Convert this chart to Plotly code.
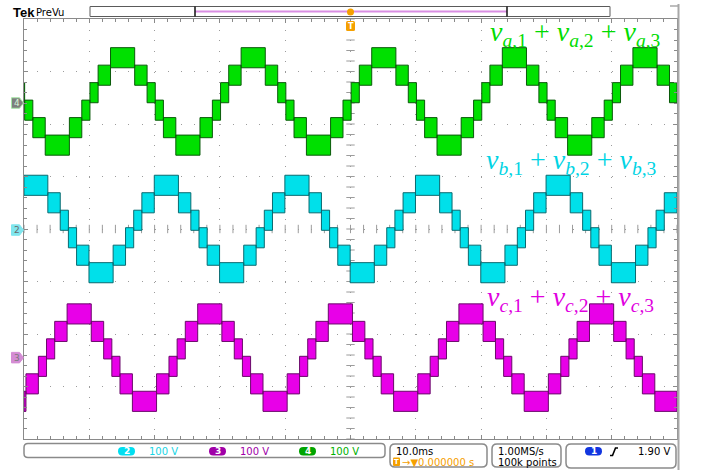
import plotly.graph_objects as go

# ---------------- data ----------------
time_range_ms = [-50, 50]          # 10 divisions x 10.0 ms
volt_range_V = [-400, 400]         # 8 divisions x 100 V
level_step_V = 33.3                # one converter level
band_overshoot_V = 2.5             # switching ripple beyond each level
green_offset_V = 243
cyan_offset_V = 0
magenta_offset_V = -245

# transition instants (ms) and active band (lower level index, band = [k, k+1])
green_edges_ms = [-50, -49.9, -48.65, -46.75, -43.05, -41.15, -39.9, -38.65, -36.75,
                  -33.05, -31.15, -29.9, -28.65, -26.75, -23.05, -21.15, -19.9, -18.65, -16.75,
                  -13.05, -11.15, -9.9, -8.65, -6.75, -3.05, -1.15, 0.1, 1.35, 3.25,
                  6.95, 8.85, 10.1, 11.35, 13.25, 16.95, 18.85, 20.1, 21.35, 23.25,
                  26.95, 28.85, 30.1, 31.35, 33.25, 36.95, 38.85, 40.1, 41.35, 43.25,
                  46.95, 48.85, 50]
green_bands = [0,
               -1, -2, -3, -2, -1, 0, 1, 2, 1, 0,
               -1, -2, -3, -2, -1, 0, 1, 2, 1, 0,
               -1, -2, -3, -2, -1, 0, 1, 2, 1, 0,
               -1, -2, -3, -2, -1, 0, 1, 2, 1, 0,
               -1, -2, -3, -2, -1, 0, 1, 2, 1, 0]

cyan_edges_ms = [-50, -46.35, -44.45, -43.2, -41.95, -40.05, -36.35, -34.45, -33.2, -31.95,
                 -30.05, -26.35, -24.45, -23.2, -21.95, -20.05, -16.35, -14.45, -13.2, -11.95,
                 -10.05, -6.35, -4.45, -3.2, -1.95, -0.05, 3.65, 5.55, 6.8, 8.05,
                 9.95, 13.65, 15.55, 16.8, 18.05, 19.95, 23.65, 25.55, 26.8, 28.05,
                 29.95, 33.65, 35.55, 36.8, 38.05, 39.95, 43.65, 45.55, 46.8, 48.05, 50]
cyan_bands = [2,
              1, 0, -1, -2, -3, -2, -1, 0, 1, 2,
              1, 0, -1, -2, -3, -2, -1, 0, 1, 2,
              1, 0, -1, -2, -3, -2, -1, 0, 1, 2,
              1, 0, -1, -2, -3, -2, -1, 0, 1, 2,
              1, 0, -1, -2, -3, -2, -1, 0, 1]

magenta_edges_ms = [-50, -49.7, -47.8, -46.55, -45.3, -43.4, -39.7, -37.8, -36.55, -35.3,
                    -33.4, -29.7, -27.8, -26.55, -25.3, -23.4, -19.7, -17.8, -16.55, -15.3,
                    -13.4, -9.7, -7.8, -6.55, -5.3, -3.4, 0.3, 2.2, 3.45, 4.7,
                    6.6, 10.3, 12.2, 13.45, 14.7, 16.6, 20.3, 22.2, 23.45, 24.7,
                    26.6, 30.3, 32.2, 33.45, 34.7, 36.6, 40.3, 42.2, 43.45, 44.7, 46.6, 50]
magenta_bands = [-3, -2, -1, 0, 1, 2,
                 1, 0, -1, -2, -3, -2, -1, 0, 1, 2,
                 1, 0, -1, -2, -3, -2, -1, 0, 1, 2,
                 1, 0, -1, -2, -3, -2, -1, 0, 1, 2,
                 1, 0, -1, -2, -3, -2, -1, 0, 1, 2,
                 1, 0, -1, -2, -3]

label_a = "<i>v</i><sub><i>a</i>,1</sub> + <i>v</i><sub><i>a</i>,2</sub> + <i>v</i><sub><i>a</i>,3</sub>"
label_b = "<i>v</i><sub><i>b</i>,1</sub> + <i>v</i><sub><i>b</i>,2</sub> + <i>v</i><sub><i>b</i>,3</sub>"
label_c = "<i>v</i><sub><i>c</i>,1</sub> + <i>v</i><sub><i>c</i>,2</sub> + <i>v</i><sub><i>c</i>,3</sub>"

channel_numbers = ["2", "3", "4"]
channel_scales = ["100 V", "100 V", "100 V"]
timebase_text = "10.0ms"
trigger_pos_text = "→▼0.000000 s"
sample_rate_text = "1.00MS/s"
record_text = "100k points"
trigger_level_text = "1.90 V"

# ---------------- styling ----------------
W, H = 701, 470
L, R, T, B = 24, 677, 19, 439   # plot area in pixels

GREEN, GREEN_E = "#00e000", "#0a5a0a"
CYAN, CYAN_E = "#00e0ea", "#0a6a70"
MAG, MAG_E = "#e800e8", "#6a0a6a"
GRID = "#9c9c9c"
FRAME = "#8a8a8a"
ORANGE = "#f5a000"


def PX(x):
    return (x - L) / (R - L)


def PY(y):
    return (B - y) / (B - T)


def band_polys(edges, bands, offset, step, ext):
    xs, ys = [], []
    for i, k in enumerate(bands):
        a, b = edges[i], edges[i + 1]
        lo = offset + k * step - ext
        hi = offset + (k + 1) * step + ext
        xs += [a, b, b, a, a, None]
        ys += [lo, lo, hi, hi, lo, None]
    return xs, ys


fig = go.Figure()

# centre cross-hair tick marks (graticule)
cx = [time_range_ms[0] + 2 * i for i in range(51)]
cy = [volt_range_V[0] + 20 * i for i in range(41)]
fig.add_trace(go.Scatter(x=cx, y=[0] * len(cx), mode="markers",
                         marker=dict(symbol="line-ns", size=6, line=dict(color=GRID, width=1)),
                         hoverinfo="skip"))
fig.add_trace(go.Scatter(x=[0] * len(cy), y=cy, mode="markers",
                         marker=dict(symbol="line-ew", size=6, line=dict(color=GRID, width=1)),
                         hoverinfo="skip"))

for edges, bands, off, col, ecol in [
    (green_edges_ms, green_bands, green_offset_V, GREEN, GREEN_E),
    (cyan_edges_ms, cyan_bands, cyan_offset_V, CYAN, CYAN_E),
    (magenta_edges_ms, magenta_bands, magenta_offset_V, MAG, MAG_E),
]:
    xs, ys = band_polys(edges, bands, off, level_step_V, band_overshoot_V)
    fig.add_trace(go.Scatter(x=xs, y=ys, mode="lines", fill="toself", fillcolor=col,
                             line=dict(color=ecol, width=1), hoverinfo="skip"))

shapes = []
annotations = []


def pline(x0, y0, x1, y1, color, width=1):
    shapes.append(dict(type="line", xref="paper", yref="paper",
                       x0=PX(x0), y0=PY(y0), x1=PX(x1), y1=PY(y1),
                       line=dict(color=color, width=width)))


def rrect(x0, y0, x1, y1, r, line_color=None, fill=None, width=1.5):
    rx = r / (R - L)
    ry = r / (B - T)
    X0, X1 = PX(x0), PX(x1)
    Y0, Y1 = PY(y0), PY(y1)   # Y0 is top (larger)
    p = (f"M{X0+rx},{Y0} L{X1-rx},{Y0} Q{X1},{Y0} {X1},{Y0-ry} "
         f"L{X1},{Y1+ry} Q{X1},{Y1} {X1-rx},{Y1} L{X0+rx},{Y1} "
         f"Q{X0},{Y1} {X0},{Y1+ry} L{X0},{Y0-ry} Q{X0},{Y0} {X0+rx},{Y0} Z")
    d = dict(type="path", xref="paper", yref="paper", path=p,
             line=dict(color=line_color or "rgba(0,0,0,0)", width=width if line_color else 0))
    if fill:
        d["fillcolor"] = fill
    shapes.append(d)


def text(x, y, s, size=10, color="black", anchor="left", family="DejaVu Sans", bold=False):
    annotations.append(dict(xref="paper", yref="paper", x=PX(x), y=PY(y), text=(f"<b>{s}</b>" if bold else s),
                            showarrow=False, xanchor=anchor, yanchor="middle",
                            font=dict(family=family, size=size, color=color)))


# top record bar
rrect(90, 6.5, 610, 16.5, 0.1, line_color="#5a5a5a", fill="white", width=1)
pline(195, 11.5, 507, 11.5, "#d98ee2", 2)
pline(195, 6.5, 195, 16.5, "#111111", 1.5)
pline(507, 6.5, 507, 16.5, "#111111", 1.5)
# trigger position marker
shapes.append(dict(type="circle", xref="paper", yref="paper",
                   x0=PX(347), x1=PX(354), y0=PY(15.5), y1=PY(8.5),
                   fillcolor=ORANGE, line=dict(width=0)))
rrect(346, 21, 355, 31, 1.5, fill=ORANGE)
text(350.5, 26.3, "T", size=8, color="white", anchor="center", bold=True)

# Tek PreVu
text(11, 12, "Tek", size=13, color="black", family="Liberation Sans", bold=True)
text(34, 12, "PreVu", size=10, color="black")

# right screen border
pline(678.5, 4, 678.5, 470, "#a8a8a8", 2)
pline(670, 6, 678, 6, "#a8a8a8", 1.5)

# channel ground markers
for off, fillc, linec, num, numc in [
    (green_offset_V - 3, "#7e7e7e", "#a6e6a6", "4", "#d6f4d6"),
    (cyan_offset_V - 2, "#80e6ee", "#80e6ee", "2", "#6a6a6a"),
    (magenta_offset_V, "#d48cd4", "#d48cd4", "3", "#7a7a7a"),
]:
    h = 10.0
    x0, x1, x2 = PX(11.5), PX(19.5), PX(23.5)
    path = f"M{x0},{off+h} L{x1},{off+h} L{x2},{off} L{x1},{off-h} L{x0},{off-h} Z"
    shapes.append(dict(type="path", xref="paper", yref="y", path=path,
                       fillcolor=fillc, line=dict(color=linec, width=1)))
    annotations.append(dict(xref="paper", yref="y", x=PX(16.5), y=off, text=num, showarrow=False,
                            xanchor="center", yanchor="middle",
                            font=dict(family="DejaVu Sans", size=9, color=numc)))

# bottom info boxes
rrect(24, 443.5, 385, 457.5, 4, line_color=FRAME)
for xp, pill, tcol, num, scale in [
    (118, "#00def0", "#18d4e4", channel_numbers[0], channel_scales[0]),
    (209, "#a000a8", "#a000a8", channel_numbers[1], channel_scales[1]),
    (299, "#00a400", "#00b000", channel_numbers[2], channel_scales[2]),
]:
    rrect(xp, 447, xp + 17, 455.5, 4.2, fill=pill)
    text(xp + 8.5, 451.3, num, size=9, color="white", anchor="center", bold=True)
    text(xp + 28.5, 451.3, scale, size=10, color=tcol)

rrect(390, 444, 487, 467, 5, line_color=FRAME)
text(393.5, 451.5, timebase_text, size=10)
rrect(393, 457.5, 400, 466, 1, fill=ORANGE)
text(396.5, 462, "T", size=7, color="white", anchor="center", bold=True)
text(400, 462, trigger_pos_text, size=10, color=ORANGE)

rrect(492, 444, 561, 467, 5, line_color=FRAME)
text(495.5, 451.5, sample_rate_text, size=10)
text(495.5, 462, record_text, size=10)

rrect(566, 444, 676, 468, 5, line_color=FRAME)
rrect(585, 447, 602, 455.5, 4.2, fill="#1236e0")
text(593.5, 451.3, "1", size=9, color="white", anchor="center", bold=True)
shapes.append(dict(type="path", xref="paper", yref="paper",
                   path=f"M{PX(610)},{PY(455.5)} L{PX(612.5)},{PY(455.5)} L{PX(615.5)},{PY(448)} L{PX(618)},{PY(448)}",
                   line=dict(color="black", width=1.6)))
text(672, 451.5, trigger_level_text, size=10, anchor="right")

# waveform labels
for lab, xr, yc, col in [(label_a, 663, 33, "#00dc00"),
                         (label_b, 659, 161, "#00d4e4"),
                         (label_c, 656, 298, "#e000e0")]:
    annotations.append(dict(xref="paper", yref="paper", x=PX(xr), y=PY(yc), text=lab,
                            showarrow=False, xanchor="right", yanchor="middle",
                            font=dict(family="Liberation Serif", size=28, color=col)))

fig.update_layout(
    width=W, height=H,
    margin=dict(l=L, r=W - R, t=T, b=H - B, pad=0),
    plot_bgcolor="white", paper_bgcolor="white",
    showlegend=False,
    shapes=shapes, annotations=annotations,
    xaxis=dict(range=time_range_ms, showgrid=True, dtick=10, tick0=0,
               gridcolor=GRID, gridwidth=1, griddash="1px,9.5px",
               zeroline=False, showline=True, linecolor=FRAME, linewidth=1, mirror="ticks",
               ticks="inside", ticklen=4, tickcolor=FRAME, showticklabels=False,
               minor=dict(dtick=2, tick0=0, ticks="inside", ticklen=3, tickcolor=FRAME, showgrid=False),
               fixedrange=True),
    yaxis=dict(range=volt_range_V, showgrid=True, dtick=100, tick0=0,
               gridcolor=GRID, gridwidth=1, griddash="1px,12.06px",
               zeroline=False, showline=True, linecolor=FRAME, linewidth=1, mirror="ticks",
               ticks="inside", ticklen=4, tickcolor=FRAME, showticklabels=False,
               minor=dict(dtick=20, tick0=0, ticks="inside", ticklen=3, tickcolor=FRAME, showgrid=False),
               fixedrange=True),
)

fig.write_html("out.html")
